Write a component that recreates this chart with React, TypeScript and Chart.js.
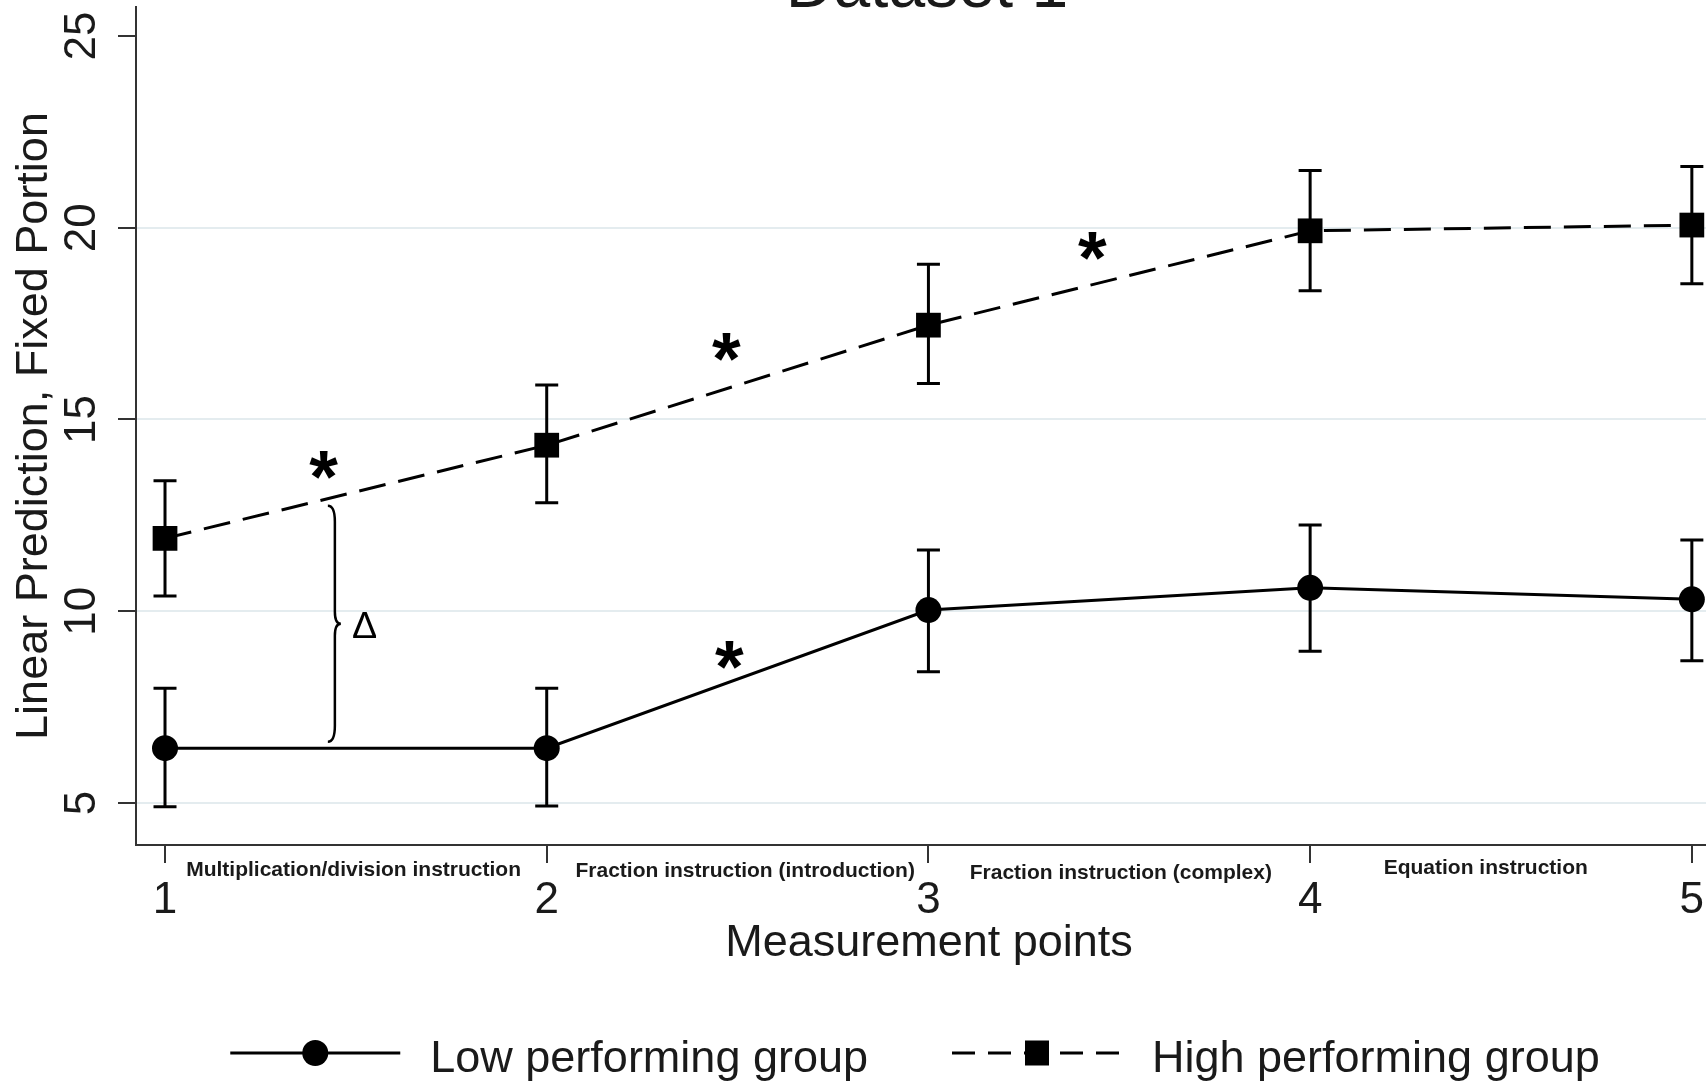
import React, { useEffect, useRef } from "react";
import { Chart, registerables } from "chart.js";

Chart.register(...registerables);

const FONT = "'Liberation Sans', Arial, Helvetica, sans-serif";

// ---------- data ----------
const measurementPoints = [1, 2, 3, 4, 5];
const xTicks = [1, 2, 3, 4, 5];
const yTicks = [5, 10, 15, 20, 25];

const seriesLabels = ["Low performing group", "High performing group"];

const lowMean = [6.43, 6.43, 10.03, 10.61, 10.31];
const lowUpper = [7.99, 7.99, 11.6, 12.25, 11.86];
const lowLower = [4.9, 4.92, 8.42, 8.96, 8.71];

const highMean = [11.9, 14.33, 17.46, 19.92, 20.07];
const highUpper = [13.4, 15.9, 19.05, 21.49, 21.6];
const highLower = [10.4, 12.83, 15.94, 18.36, 18.54];

const phaseLabels = [
  "Multiplication/division instruction",
  "Fraction instruction (introduction)",
  "Fraction instruction (complex)",
  "Equation instruction",
];
const phaseX = [1.494, 2.52, 3.504, 4.46];

const sigX = [1.416, 2.471, 3.43, 2.479];
const sigY = [13.81, 16.89, 19.52, 8.86];

const gapX = 1.445;
const gapTop = 12.75;
const gapBottom = 6.6;
const deltaX = 1.524;
const deltaY = 9.64;

const chartTitle = "Dataset 1";
const xTitle = "Measurement points";
const yTitle = "Linear Prediction, Fixed Portion";

// ---------- layout ----------
const CANVAS_W = 1730;
const CANVAS_H = 1142;
const SHIFT_Y = 60;
const TEXT = "#1a1a1a";
const AXIS = "#333333";
const GRID = "#e4ecef";

const errorBarPlugin = {
  id: "errorBars",
  beforeDatasetsDraw(chart: any) {
    const { ctx } = chart;
    const x = chart.scales.x;
    const y = chart.scales.y;
    ctx.save();
    ctx.strokeStyle = "#000";
    ctx.lineWidth = 3;
    chart.data.datasets.forEach((ds: any) => {
      ds.data.forEach((p: any, i: number) => {
        const px = x.getPixelForValue(p.x);
        const top = y.getPixelForValue(ds.errHigh[i]);
        const bot = y.getPixelForValue(ds.errLow[i]);
        ctx.beginPath();
        ctx.moveTo(px, top);
        ctx.lineTo(px, bot);
        ctx.moveTo(px - 11.5, top);
        ctx.lineTo(px + 11.5, top);
        ctx.moveTo(px - 11.5, bot);
        ctx.lineTo(px + 11.5, bot);
        ctx.stroke();
      });
    });
    ctx.restore();
  },
};

function drawCenteredGlyph(ctx: any, text: string, weight: string, glyphH: number, cx: number, cy: number) {
  ctx.font = `${weight} 100px ${FONT}`;
  const m = ctx.measureText(text);
  const h = m.actualBoundingBoxAscent + m.actualBoundingBoxDescent;
  const size = (100 * glyphH) / h;
  ctx.font = `${weight} ${size}px ${FONT}`;
  const m2 = ctx.measureText(text);
  ctx.textAlign = "left";
  ctx.textBaseline = "alphabetic";
  const x0 = cx - (m2.actualBoundingBoxRight - m2.actualBoundingBoxLeft) / 2;
  const y0 = cy + (m2.actualBoundingBoxAscent - m2.actualBoundingBoxDescent) / 2;
  ctx.fillText(text, x0, y0);
}

const annotationPlugin = {
  id: "annotations",
  afterDatasetsDraw(chart: any) {
    const { ctx, chartArea } = chart;
    const x = chart.scales.x;
    const y = chart.scales.y;
    ctx.save();
    ctx.fillStyle = "#000";
    // significance stars
    sigX.forEach((sx, i) => {
      drawCenteredGlyph(ctx, "*", "bold", 28, x.getPixelForValue(sx), y.getPixelForValue(sigY[i]));
    });
    // brace
    const bx = x.getPixelForValue(gapX);
    const bt = y.getPixelForValue(gapTop);
    const bb = y.getPixelForValue(gapBottom);
    const bm = (bt + bb) / 2;
    ctx.strokeStyle = "#000";
    ctx.lineWidth = 2.5;
    ctx.beginPath();
    ctx.moveTo(bx - 7, bt);
    ctx.quadraticCurveTo(bx, bt, bx, bt + 16);
    ctx.lineTo(bx, bm - 12);
    ctx.quadraticCurveTo(bx, bm, bx + 6, bm);
    ctx.quadraticCurveTo(bx, bm, bx, bm + 12);
    ctx.lineTo(bx, bb - 16);
    ctx.quadraticCurveTo(bx, bb, bx - 7, bb);
    ctx.stroke();
    // delta
    drawCenteredGlyph(ctx, "\u0394", "normal", 26, x.getPixelForValue(deltaX), y.getPixelForValue(deltaY));
    // phase labels
    ctx.fillStyle = TEXT;
    ctx.font = `bold 21px ${FONT}`;
    ctx.textAlign = "center";
    ctx.textBaseline = "middle";
    const offs = [25, 26, 28, 23];
    phaseLabels.forEach((t, i) => {
      ctx.fillText(t, x.getPixelForValue(phaseX[i]), chartArea.bottom + offs[i]);
    });
    // title (cut off at the top of the picture)
    ctx.font = `66px ${FONT}`;
    ctx.textAlign = "center";
    ctx.textBaseline = "alphabetic";
    ctx.fillText(chartTitle, (chartArea.left + chartArea.right) / 2 - 2, chartArea.top);
    ctx.restore();
  },
};

const legendPlugin = {
  id: "sketchLegend",
  afterDraw(chart: any) {
    const { ctx, chartArea } = chart;
    const dss = chart.data.datasets;
    ctx.save();
    ctx.font = `45px ${FONT}`;
    const sample = 170;
    const gapText = 30;
    const gapItem = 84;
    const widths = dss.map((d: any) => ctx.measureText(d.label).width);
    let total = gapItem * (dss.length - 1);
    widths.forEach((w: number) => (total += sample + gapText + w));
    let cx = (chartArea.left + chartArea.right) / 2 - 14 - total / 2;
    const yLine = chartArea.bottom + 208;
    const yBase = chartArea.bottom + 227;
    dss.forEach((d: any, i: number) => {
      ctx.strokeStyle = "#000";
      ctx.lineWidth = 3;
      ctx.setLineDash(d.borderDash && d.borderDash.length ? [23, 13] : []);
      ctx.beginPath();
      ctx.moveTo(cx, yLine);
      ctx.lineTo(cx + sample, yLine);
      ctx.stroke();
      ctx.setLineDash([]);
      const mx = cx + sample / 2;
      ctx.fillStyle = "#000";
      if (d.pointStyle === "rect") {
        ctx.fillRect(mx - 12, yLine - 12.5, 24, 25);
      } else {
        ctx.beginPath();
        ctx.arc(mx, yLine, 13, 0, Math.PI * 2);
        ctx.fill();
      }
      ctx.fillStyle = TEXT;
      ctx.textAlign = "left";
      ctx.textBaseline = "alphabetic";
      ctx.fillText(d.label, cx + sample + gapText, yBase);
      cx += sample + gapText + widths[i] + gapItem;
    });
    ctx.restore();
  },
};

export default function App() {
  const ref = useRef<HTMLCanvasElement>(null);

  useEffect(() => {
    const toPts = (vals: number[]) => measurementPoints.map((m, i) => ({ x: m, y: vals[i] }));
    const chart = new Chart(ref.current as HTMLCanvasElement, {
      type: "line",
      data: {
        datasets: [
          {
            label: seriesLabels[0],
            data: toPts(lowMean),
            errHigh: lowUpper,
            errLow: lowLower,
            borderColor: "#000",
            backgroundColor: "#000",
            borderWidth: 3,
            pointStyle: "circle",
            pointRadius: 13,
            pointBorderWidth: 0,
            pointBackgroundColor: "#000",
            tension: 0,
          } as any,
          {
            label: seriesLabels[1],
            data: toPts(highMean),
            errHigh: highUpper,
            errLow: highLower,
            borderColor: "#000",
            backgroundColor: "#000",
            borderWidth: 3,
            borderDash: [27, 13],
            pointStyle: "rect",
            pointRadius: 17.5,
            pointBorderWidth: 0,
            pointBackgroundColor: "#000",
            tension: 0,
          } as any,
        ],
      },
      options: {
        responsive: false,
        maintainAspectRatio: false,
        animation: false,
        layout: { autoPadding: false, padding: { left: 0, right: 8, top: 67, bottom: 111 } },
        plugins: {
          legend: { display: false },
          tooltip: { enabled: false },
          title: { display: false },
        },
        scales: {
          x: {
            type: "linear",
            min: 0.924,
            max: 5.079,
            afterBuildTicks: (s: any) => {
              s.ticks = xTicks.map((v) => ({ value: v }));
            },
            afterFit: (s: any) => {
              s.height = 126;
              s.paddingLeft = 0;
              s.paddingRight = 0;
            },
            grid: {
              drawOnChartArea: false,
              drawTicks: true,
              tickLength: 18,
              tickColor: AXIS,
              tickWidth: 2,
              color: AXIS,
              lineWidth: 2,
            },
            border: { display: true, color: AXIS, width: 2 },
            ticks: {
              autoSkip: false,
              maxRotation: 0,
              padding: 11,
              color: TEXT,
              font: { family: FONT, size: 44 },
            },
            title: {
              display: true,
              text: xTitle,
              color: TEXT,
              font: { family: FONT, size: 45 },
              padding: { top: 0, bottom: 0 },
            },
          },
          y: {
            type: "linear",
            min: 3.905,
            max: 25.756,
            afterBuildTicks: (s: any) => {
              s.ticks = yTicks.map((v) => ({ value: v }));
            },
            afterFit: (s: any) => {
              s.width = 136;
              s.paddingTop = 0;
              s.paddingBottom = 0;
            },
            grid: {
              drawOnChartArea: true,
              drawTicks: true,
              tickLength: 18,
              tickColor: AXIS,
              tickWidth: 2,
              lineWidth: 2,
              color: (c: any) => (c.tick && c.tick.value === 25 ? "rgba(0,0,0,0)" : GRID),
            },
            border: { display: true, color: AXIS, width: 2 },
            ticks: {
              autoSkip: false,
              minRotation: 90,
              maxRotation: 90,
              crossAlign: "center",
              padding: 11,
              color: TEXT,
              font: { family: FONT, size: 44 },
            },
            title: {
              display: true,
              text: yTitle,
              color: TEXT,
              font: { family: FONT, size: 45 },
              padding: { top: 8, bottom: 0 },
            },
          },
        },
      } as any,
      plugins: [errorBarPlugin, annotationPlugin, legendPlugin],
    });
    return () => chart.destroy();
  }, []);

  return (
    <div
      style={{
        position: "fixed",
        left: 0,
        top: 0,
        width: 1706,
        height: 1082,
        overflow: "hidden",
        background: "#fff",
      }}
    >
      <canvas
        ref={ref}
        width={CANVAS_W}
        height={CANVAS_H}
        style={{ position: "absolute", left: 0, top: -SHIFT_Y, width: CANVAS_W, height: CANVAS_H }}
      />
    </div>
  );
}
